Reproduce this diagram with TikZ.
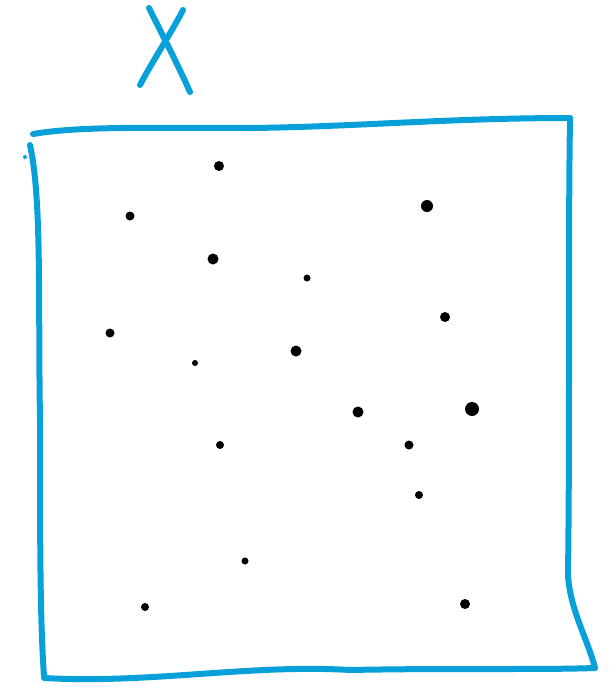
\documentclass[tikz,border=0pt]{standalone}
\begin{document}
\begin{tikzpicture}[x=1pt,y=-1pt,
  pen/.style={draw=skyb,line width=6pt,line cap=round,line join=round},
  dot/.style={circle,fill=black,inner sep=0pt,minimum size=#1},
  dot/.default=10pt]
\definecolor{skyb}{RGB}{8,160,216}
\useasboundingbox (0,0) rectangle (611,685);
% label X
\draw[pen] (149,8) .. controls (165,40) and (178,65) .. (190,92);
\draw[pen] (183,10) .. controls (170,35) and (152,62) .. (140,85);
% box
\draw[pen] (33,134) .. controls (80,126) and (150,128) .. (250,128)
  .. controls (350,127) and (450,118) .. (570,118);
\draw[pen] (570,118) .. controls (568,250) and (570,420) .. (568,575)
  .. controls (570,610) and (588,640) .. (595,668);
\draw[pen] (30,145) .. controls (42,200) and (38,300) .. (40,420)
  .. controls (40,540) and (40,620) .. (44,676);
\draw[pen] (44,678) .. controls (150,684) and (250,664) .. (350,670)
  .. controls (450,668) and (540,670) .. (595,668);
\fill[skyb] (25,157) circle (2pt);
% dots
\node[dot] (d1) at (219,166) {};
\node[dot=9pt] (d2) at (130,216) {};
\node[dot=12pt] (d3) at (427,206) {};
\node[dot=11pt] (d4) at (213,259) {};
\node[dot=7pt] (d5) at (307,278) {};
\node[dot] (d6) at (445,317) {};
\node[dot=9pt] (d7) at (110,333) {};
\node[dot=11pt] (d8) at (296,351) {};
\node[dot=6pt] (d9) at (195,363) {};
\node[dot=11pt] (d10) at (358,412) {};
\node[dot=14pt] (d11) at (472,409) {};
\node[dot=8pt] (d12) at (220,445) {};
\node[dot=9pt] (d13) at (409,445) {};
\node[dot=8pt] (d14) at (419,495) {};
\node[dot=7pt] (d15) at (245,561) {};
\node[dot=8pt] (d16) at (145,607) {};
\node[dot=10pt] (d17) at (465,604) {};
\end{tikzpicture}
\end{document}
